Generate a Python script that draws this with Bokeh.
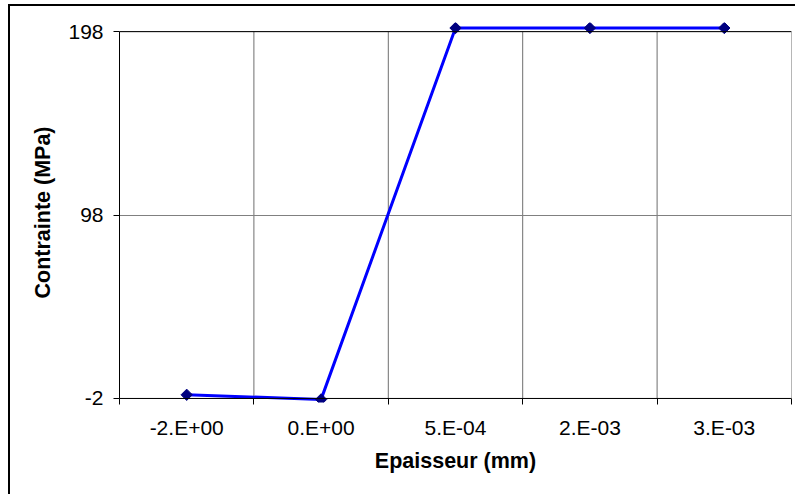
import math
from bokeh.plotting import figure
from bokeh.models import FixedTicker, Range1d, Span
from bokeh.embed import file_html
from bokeh.resources import INLINE

# ---- data ----
categories = ["-2.E+00", "0.E+00", "5.E-04", "2.E-03", "3.E-03"]
contrainte = [0, -2.5, 200, 200, 200]
y_ticks = [-2, 98, 198]
x_title = "Epaisseur (mm)"
y_title = "Contrainte (MPa)"

n = len(categories)
xs = [i + 0.5 for i in range(n)]          # category centres
bounds = list(range(n + 1))               # category boundaries

FONT = "Liberation Sans"

p = figure(frame_width=672, frame_height=380,
           x_range=Range1d(0, n), y_range=Range1d(-4.2, 203),
           output_backend="svg", toolbar_location=None,
           min_border_left=109, min_border_right=4,
           min_border_top=16, min_border_bottom=92)
p.styles = {"border-left": "2px solid black", "border-top": "2px solid black",
            "margin-top": "4px", "margin-left": "8px"}
p.outline_line_color = None
p.background_fill_color = "white"
p.border_fill_color = "white"

# x axis (line drawn at the -2 level with a span; ticks shifted up to it)
xa = p.xaxis[0]
xa.ticker = FixedTicker(ticks=xs, minor_ticks=bounds)
xa.major_label_overrides = {x: c for x, c in zip(xs, categories)}
xa.axis_line_color = None
xa.major_tick_line_color = None
xa.major_tick_out = 2
xa.major_tick_in = 0
xa.minor_tick_line_color = "black"
xa.minor_tick_out = 2
xa.minor_tick_in = 4
xa.major_label_standoff = 11
xa.major_label_text_font = FONT
xa.major_label_text_font_size = "21px"
xa.major_label_text_color = "black"
xa.axis_label = x_title
xa.axis_label_text_font = FONT
xa.axis_label_text_font_size = "21.5px"
xa.axis_label_text_font_style = "bold"
xa.axis_label_text_color = "black"
xa.axis_label_standoff = 7

# y axis
ya = p.yaxis[0]
ya.ticker = FixedTicker(ticks=y_ticks)
ya.major_label_overrides = {t: str(t) for t in y_ticks}
ya.bounds = (y_ticks[0], y_ticks[-1])
ya.axis_line_color = "black"
ya.major_tick_line_color = "black"
ya.major_tick_out = 6
ya.major_tick_in = 0
ya.minor_tick_line_color = None
ya.major_label_standoff = 10
ya.major_label_text_font = FONT
ya.major_label_text_font_size = "21px"
ya.major_label_text_color = "black"
ya.axis_label = y_title
ya.axis_label_text_font = FONT
ya.axis_label_text_font_size = "21.5px"
ya.axis_label_text_font_style = "bold"
ya.axis_label_text_color = "black"
ya.axis_label_standoff = 10

# grids
p.xgrid.visible = False
p.ygrid.ticker = FixedTicker(ticks=y_ticks)
p.ygrid.grid_line_color = "#808080"
p.ygrid.grid_line_width = 1

p.segment(x0=bounds[1:], y0=[y_ticks[0]] * n, x1=bounds[1:], y1=[y_ticks[-1]] * n,
          line_color="#6e6e6e", line_width=1, level="underlay")
p.add_layout(Span(location=y_ticks[-1], dimension="width", line_color="black", line_width=1))
p.add_layout(Span(location=y_ticks[0], dimension="width", line_color="black", line_width=1))

# data
p.line(xs, contrainte, line_color="#0000FF", line_width=3)
p.scatter(xs, contrainte, marker="square", angle=math.pi / 4, size=8,
          fill_color="#000080", line_color="#000080")

open("out.html", "w").write(file_html(p, INLINE))
